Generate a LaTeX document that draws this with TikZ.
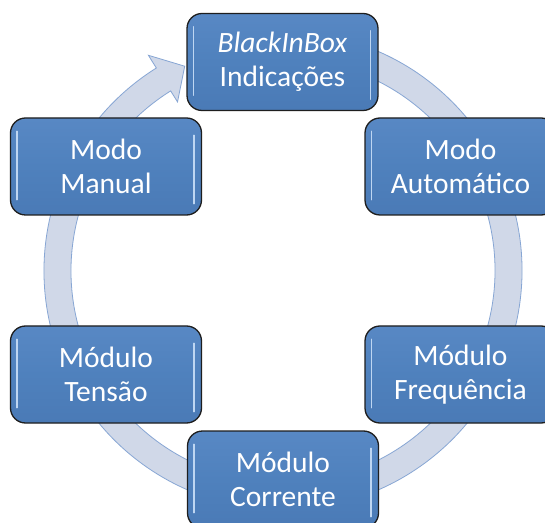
\documentclass[tikz,border=0pt]{standalone}
\usepackage{fontspec}
\setmainfont{Carlito}
\usetikzlibrary{calc}
\definecolor{ringfill}{RGB}{208,216,232}
\definecolor{ringline}{RGB}{135,166,212}
\definecolor{boxtop}{RGB}{88,136,196}
\definecolor{boxmid}{RGB}{79,129,189}
\definecolor{boxbot}{RGB}{74,122,182}
\definecolor{boxline}{RGB}{30,30,30}
\definecolor{hilite}{RGB}{190,214,242}
\tikzset{
  stagebox/.style={rectangle, rounded corners=15pt, minimum width=191pt, minimum height=97pt,
    top color=boxtop, bottom color=boxbot, middle color=boxmid, draw=boxline, line width=1.3pt,
    text=white, align=center, inner sep=0pt,
    font=\fontsize{29.5}{34}\selectfont},
  ringshape/.style={fill=ringfill, draw=ringline, line width=0.8pt, line join=miter},
  hl/.style={draw=hilite, line width=1.6pt, line cap=round}
}
\begin{document}
\begin{tikzpicture}[x=1pt,y=1pt]
\useasboundingbox (0,0) rectangle (545,522);
\clip (0,0) rectangle (545,522);
\fill[white] (0,0) rectangle (545,522);
\coordinate (c) at (283,251.3);
% circular arrow
\begin{scope}[shift={(c)}]
\draw[ringshape] (80:239) arc[start angle=80, end angle=-238, radius=239]
  -- (122:254) -- ($(122:225.5)+(32:25)$) -- (122:199) -- (122:212)
  arc[start angle=-238, end angle=80, radius=212] -- cycle;
\end{scope}
% boxes
\node[stagebox] (ind) at (282.5,460) {\textit{BlackInBox}\\Indicações};
\node[stagebox] (auto) at (460.5,355.5) {Modo\\Automático};
\node[stagebox] (freq) at (460.5,147.5) {Módulo\\Frequência};
\node[stagebox] (corr) at (283,42.5) {Módulo\\Corrente};
\node[stagebox] (tens) at (106,147.5) {Módulo\\Tensão};
\node[stagebox] (man) at (106,355.5) {Modo\\Manual};
% bevel highlights
\foreach \n in {ind,auto,freq,corr,tens,man}{
  \draw[hl] ([xshift=7pt,yshift=-14pt]\n.north west) -- ([xshift=7pt,yshift=16pt]\n.south west);
  \draw[hl] ([xshift=-8pt,yshift=-18pt]\n.north east) -- ([xshift=-8pt,yshift=12pt]\n.south east);
}
\end{tikzpicture}
\end{document}
